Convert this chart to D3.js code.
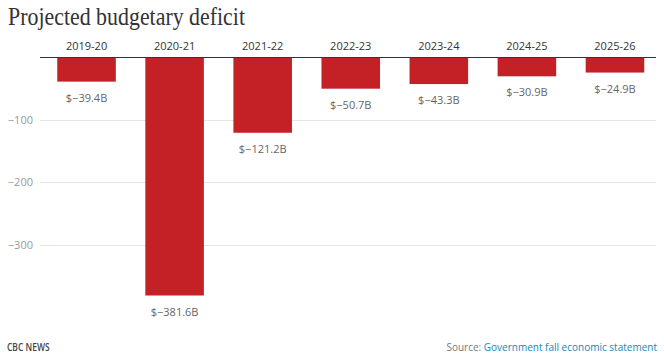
<!DOCTYPE html>
<html><head><meta charset="utf-8">
<script src="https://cdn.jsdelivr.net/npm/d3@7"></script>
<style>
body{margin:0;background:#fff;}
svg{display:block;}
</style></head>
<body>
<svg id="chart" width="664" height="356"></svg>
<script>
const categories = ["2019-20","2020-21","2021-22","2022-23","2023-24","2024-25","2025-26"];
const deficits = [-39.4,-381.6,-121.2,-50.7,-43.3,-30.9,-24.9];
const yTicks = [-100,-200,-300];
const title = "Projected budgetary deficit";
const sourceLabel = "Source: ";
const sourceText = "Government fall economic statement";
const brand = "CBC NEWS";

const svg = d3.select("#chart");
const x = d3.scaleBand().domain(categories).range([42.5, 659]).paddingInner(0.335).paddingOuter(0.1675);
const y = d3.scaleLinear().domain([0,-400]).range([57, 307]);

svg.append("text").attr("x",8).attr("y",25)
  .attr("font-family","'Liberation Serif', serif").attr("font-size",25.5).attr("fill","#333")
  .attr("textLength",237).attr("lengthAdjust","spacingAndGlyphs")
  .text(title);

// gridlines
svg.append("g").selectAll("line").data(yTicks).join("line")
  .attr("x1",40).attr("x2",656)
  .attr("y1",d=>Math.round(y(d))+0.5).attr("y2",d=>Math.round(y(d))+0.5)
  .attr("stroke","#e6e6e6").attr("stroke-width",1);

svg.append("g").selectAll("text").data(yTicks).join("text")
  .attr("x",33).attr("y",d=>y(d)+4).attr("text-anchor","end")
  .attr("font-family","'Open Sans', sans-serif").attr("font-size",11).attr("fill","#999")
  .text(d=>"\u2212"+Math.abs(d));

// bars
svg.append("g").selectAll("rect").data(deficits).join("rect")
  .attr("x",(d,i)=>x(categories[i])).attr("width",x.bandwidth())
  .attr("y",y(0)).attr("height",d=>y(d)-y(0))
  .attr("fill","#c42127");

// value labels
svg.append("g").selectAll("text").data(deficits).join("text")
  .attr("x",(d,i)=>x(categories[i])+x.bandwidth()/2).attr("y",d=>y(d)+20)
  .attr("text-anchor","middle")
  .attr("font-family","'Open Sans', sans-serif").attr("font-size",11).attr("fill","#666")
  .text(d=>"$\u2212"+Math.abs(d).toFixed(1)+"B");

// axis line
svg.append("line").attr("x1",40).attr("x2",656).attr("y1",57.5).attr("y2",57.5)
  .attr("stroke","#333").attr("stroke-width",1);

// category labels
svg.append("g").selectAll("text").data(categories).join("text")
  .attr("x",d=>x(d)+x.bandwidth()/2).attr("y",50)
  .attr("text-anchor","middle")
  .attr("font-family","'Open Sans', sans-serif").attr("font-size",11).attr("fill","#333")
  .text(d=>d);

// footer
svg.append("text").attr("x",7).attr("y",351)
  .attr("font-family","'Open Sans', sans-serif").attr("font-size",10).attr("font-weight","600")
  .attr("fill","#444").attr("transform","translate(7,0) scale(0.85,1) translate(-7,0)")
  .text(brand);
const src = svg.append("text").attr("x",657).attr("y",351).attr("text-anchor","end")
  .attr("font-family","'Open Sans', sans-serif").attr("font-size",10);
src.append("tspan").attr("fill","#777").text(sourceLabel);
src.append("tspan").attr("fill","#1a86b5").text(sourceText);
</script>
</body></html>
